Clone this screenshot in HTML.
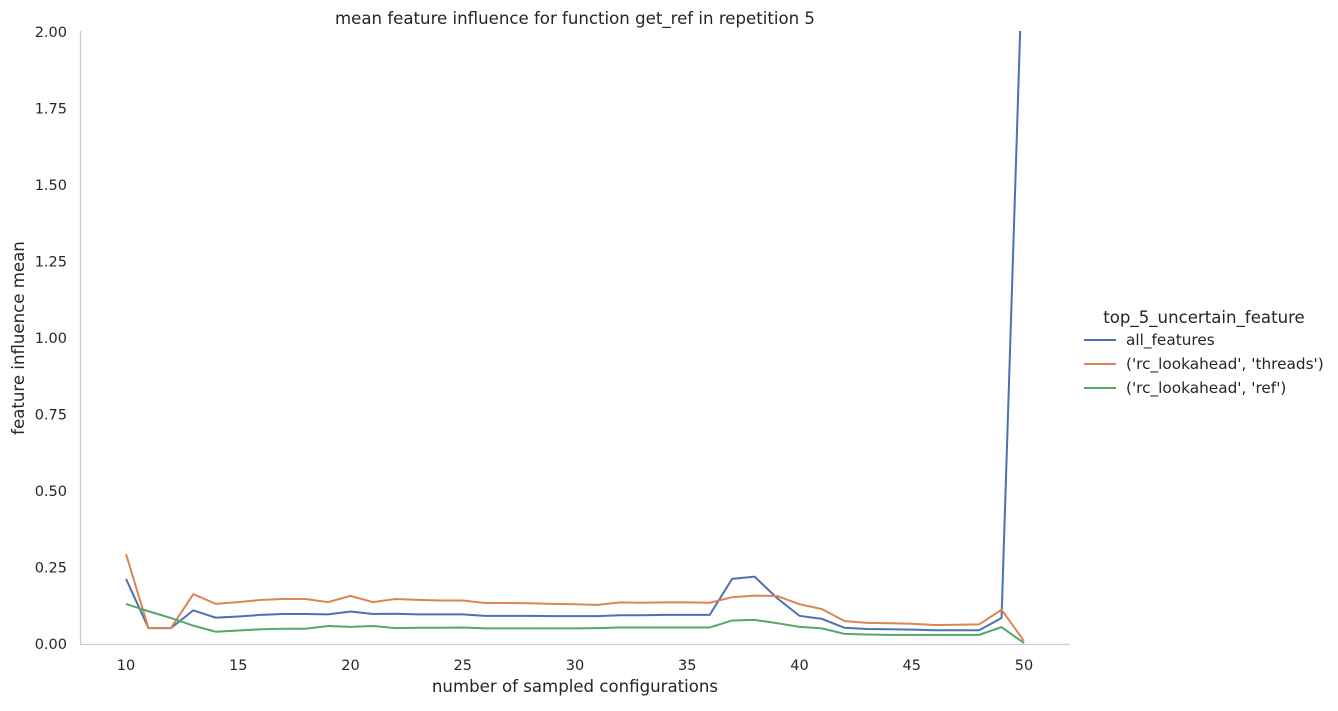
<!DOCTYPE html>
<html><head><meta charset="utf-8"><style>
body{margin:0;background:#fff;font-family:"Liberation Sans","DejaVu Sans",sans-serif;}
svg text{font-family:"DejaVu Sans","Liberation Sans",sans-serif;fill:#262626;}
</style></head><body>
<svg id="chart" width="1338" height="706">
<defs><clipPath id="plotclip"><rect x="80" y="31" width="990" height="614"/></clipPath></defs>
<text x="575" y="24" font-size="16.6" text-anchor="middle">mean feature influence for function get_ref in repetition 5</text>
<g id="axes"></g>
<g id="series" clip-path="url(#plotclip)"></g>
<text x="575" y="692" font-size="16.6" text-anchor="middle">number of sampled configurations</text>
<text transform="translate(24,338) rotate(-90)" font-size="16.6" text-anchor="middle">feature influence mean</text>
<g>
<text x="1204" y="323" font-size="16.6" text-anchor="middle">top_5_uncertain_feature</text>
<g><line x1="1084" x2="1116" y1="340" y2="340" stroke="#4c72b0" stroke-width="2"/><text x="1126" y="345" font-size="15.3">all_features</text></g>
<g><line x1="1084" x2="1116" y1="364" y2="364" stroke="#dd8452" stroke-width="2"/><text x="1126" y="369" font-size="15.3">('rc_lookahead', 'threads')</text></g>
<g><line x1="1084" x2="1116" y1="388" y2="388" stroke="#55a868" stroke-width="2"/><text x="1126" y="393" font-size="15.3">('rc_lookahead', 'ref')</text></g>
</g>
</svg>
<script>
const xs = [10,11,12,13,14,15,16,17,18,19,20,21,22,23,24,25,26,27,28,29,30,31,32,33,34,35,36,37,38,39,40,41,42,43,44,45,46,47,48,49,50];
const allFeatures = [0.213,0.052,0.052,0.11,0.086,0.09,0.095,0.098,0.098,0.097,0.106,0.098,0.099,0.097,0.097,0.097,0.092,0.092,0.092,0.091,0.091,0.091,0.094,0.094,0.095,0.095,0.095,0.213,0.220,0.15,0.092,0.082,0.053,0.049,0.048,0.047,0.045,0.045,0.045,0.085,2.4];
const threads = [0.294,0.052,0.052,0.163,0.131,0.137,0.144,0.147,0.147,0.137,0.157,0.137,0.147,0.144,0.142,0.142,0.134,0.134,0.133,0.131,0.130,0.128,0.136,0.135,0.136,0.136,0.135,0.153,0.158,0.157,0.130,0.114,0.075,0.069,0.068,0.066,0.062,0.063,0.064,0.112,0.01];
const refS = [0.131,0.107,0.085,0.06,0.04,0.044,0.048,0.05,0.05,0.059,0.056,0.059,0.052,0.053,0.053,0.054,0.051,0.051,0.051,0.051,0.051,0.052,0.054,0.054,0.054,0.054,0.054,0.077,0.079,0.068,0.056,0.051,0.033,0.031,0.030,0.030,0.030,0.030,0.030,0.055,0.003];
const xTicks = [10,15,20,25,30,35,40,45,50];
const yTicks = [0,0.25,0.5,0.75,1.0,1.25,1.5,1.75,2.0];
const yTickLabels = ["0.00","0.25","0.50","0.75","1.00","1.25","1.50","1.75","2.00"];
const NS="http://www.w3.org/2000/svg";
function xScale(v){return 126+(v-10)*(1024-126)/40;}
function yScale(v){return 644-v*306;}
const axes=document.getElementById('axes');
function mk(tag,attrs,parent){const e=document.createElementNS(NS,tag);for(const k in attrs)e.setAttribute(k,attrs[k]);parent.appendChild(e);return e;}
const xa=mk('line',{x1:80,x2:1070,y1:644.5,y2:644.5,stroke:'#ccc','stroke-width':1.3},axes);


const ya=mk('line',{x1:80.5,x2:80.5,y1:31,y2:644,stroke:'#ccc','stroke-width':1.3},axes);


xTicks.forEach(t=>{const e=mk('text',{x:xScale(t),y:670,'font-size':14.5,'text-anchor':'middle'},axes);e.textContent=t;

});
yTicks.forEach((t,i)=>{const e=mk('text',{x:67,y:yScale(t)+5,'font-size':14.5,'text-anchor':'end'},axes);e.textContent=yTickLabels[i];

});
const ser=document.getElementById('series');
[[allFeatures,'#4c72b0','line-all-features'],[threads,'#dd8452','line-threads'],[refS,'#55a868','line-ref']].forEach(([d,c,n])=>{
const p=mk('polyline',{points:d.map((v,i)=>xScale(xs[i])+','+yScale(v)).join(' '),fill:'none',stroke:c,'stroke-width':2},ser);

});
</script>
</body></html>
